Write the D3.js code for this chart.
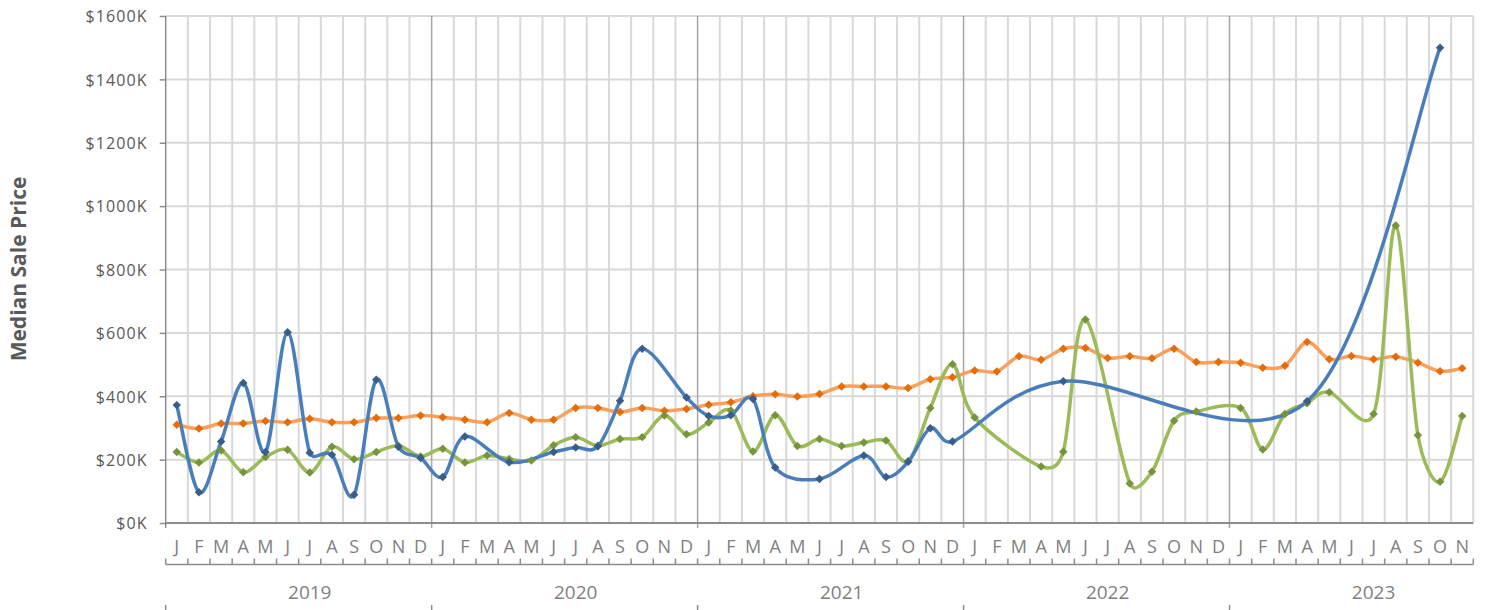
<!DOCTYPE html>
<html>
<head>
<meta charset="utf-8">
<script src="https://cdn.jsdelivr.net/npm/d3@7/dist/d3.min.js"></script>
<style>
  html, body { margin: 0; padding: 0; background: #ffffff; }
  svg { display: block; }
  text { font-family: "Open Sans", "Noto Sans", sans-serif; }
</style>
</head>
<body>
<svg id="chart" width="1488" height="610"></svg>
<script>
// ---- data (values in $K) ----
const years = ["2019", "2020", "2021", "2022", "2023"];
const monthLetters = ["J","F","M","A","M","J","J","A","S","O","N","D"];
const monthCount = 59; // Jan 2019 .. Nov 2023

const orangeValues = [
  310, 298, 314, 314, 322, 318, 329, 318, 318, 331, 331, 339,
  334, 326, 318, 347, 326, 326, 363, 363, 350, 363, 354, 360,
  373, 381, 400, 406, 399, 407, 431, 431, 431, 426, 454, 460,
  481, 478, 526, 515, 550, 552, 521, 526, 520, 550, 508, 508,
  506, 490, 496, 571, 517, 527, 517, 525, 506, 479, 488
];
const blueValues = [
  372, 97, 257, 442, 224, 602, 222, 215, 89, 452, 241, 205,
  145, 273, null, 192, null, 224, 238, 242, 386, 550, null, 396,
  338, 340, 391, 175, null, 139, null, 213, 145, 193, 299, 257,
  null, null, null, null, 447, null, null, null, null, null, null, null,
  null, null, null, 384, null, null, null, null, null, 1500, null
];
const greenValues = [
  224, 191, 229, 160, 208, 231, 159, 241, 201, 224, 244, 210,
  234, 191, 213, 202, 197, 245, 271, 244, 265, 271, 339, 280,
  317, 355, 226, 340, 243, 265, 243, 254, 260, 195, 363, 501,
  333, null, null, 178, 225, 642, null, 125, 162, 323, 352, null,
  363, 232, 344, 378, 413, null, 344, 939, 277, 130, 338
];
const yTicks = [0, 200, 400, 600, 800, 1000, 1200, 1400, 1600];
const yTitle = "Median Sale Price";

(function () {
const seriesList = [
  { name: "orange", values: orangeValues, line: "#f8a05c", marker: "#e46c0a" },
  { name: "green",  values: greenValues,  line: "#9bbb59", marker: "#77933c" },
  { name: "blue",   values: blueValues,   line: "#4a7ebb", marker: "#385d8a" }
];

// categories
const categories = [];
years.forEach((yr) => monthLetters.forEach((m, mi) => {
  if (categories.length < monthCount) categories.push({ idx: categories.length, year: yr, month: m, mi });
}));

// ---- layout ----
const svg = d3.select("#chart");
const pLeft = 165.7, pRight = 1473.3, pTop = 16, pBottom = 523;

const x = d3.scaleBand().domain(d3.range(monthCount)).range([pLeft, pRight]).paddingInner(0).paddingOuter(0);
const y = d3.scaleLinear().domain([0, 1600]).range([pBottom, pTop]);
const bw = x.bandwidth();
const cx = i => x(i) + bw / 2;
const bx = i => i === monthCount ? pRight : x(i);

const gridColor = "#d9d9d9";
const axisColor = "#8c8c8c";

// horizontal gridlines
svg.append("g").selectAll("line").data(yTicks.filter(d => d > 0)).join("line")
  .attr("x1", pLeft).attr("x2", pRight)
  .attr("y1", d => y(d)).attr("y2", d => y(d))
  .attr("stroke", gridColor).attr("stroke-width", 2);

// vertical gridlines at each month boundary
const boundaries = d3.range(1, monthCount + 1);
svg.append("g").selectAll("line").data(boundaries.filter(i => i % 12 !== 0 || i === monthCount)).join("line")
  .attr("x1", bx).attr("x2", bx)
  .attr("y1", pTop).attr("y2", pBottom)
  .attr("stroke", gridColor).attr("stroke-width", 2);

// year boundaries (darker)
const yearStarts = categories.filter(c => c.mi === 0).map(c => c.idx);
svg.append("g").selectAll("line").data(yearStarts.filter(i => i > 0)).join("line")
  .attr("x1", i => x(i)).attr("x2", i => x(i))
  .attr("y1", pTop).attr("y2", pBottom + 5)
  .attr("stroke", "#a6a6a6").attr("stroke-width", 1.5);

// y axis
const yAxis = svg.append("g").attr("transform", `translate(${pLeft},0)`)
  .call(d3.axisLeft(y).tickValues(yTicks).tickFormat(d => "$" + d + "K").tickSize(6).tickPadding(12).tickSizeOuter(0));
yAxis.select(".domain").attr("stroke", axisColor).attr("stroke-width", 1.5)
  .attr("d", `M0,${pTop}V${pBottom + 5}`);
yAxis.selectAll(".tick line").attr("stroke", axisColor).attr("stroke-width", 1.5);
yAxis.selectAll(".tick text").attr("fill", "#595959").style("font-size", "16px")
  .style("letter-spacing", "1.1px").attr("dy", "0.36em");

// x axis (month letters)
const xAxis = svg.append("g").attr("transform", `translate(0,${pBottom})`)
  .call(d3.axisBottom(x).tickFormat(i => categories[i].month).tickSize(0).tickPadding(17).tickSizeOuter(0));
xAxis.select(".domain").attr("stroke", axisColor).attr("stroke-width", 2)
  .attr("d", `M${pLeft},0H${pRight}`);
xAxis.selectAll(".tick text").attr("fill", "#7f7f7f").style("font-size", "18px");

// bracket under month labels
const bracketY = 564.5;
svg.append("line").attr("x1", pLeft).attr("x2", pRight).attr("y1", bracketY).attr("y2", bracketY)
  .attr("stroke", axisColor).attr("stroke-width", 1.5);
svg.append("g").selectAll("line").data(d3.range(0, monthCount + 1)).join("line")
  .attr("x1", bx).attr("x2", bx)
  .attr("y1", bracketY - 6).attr("y2", bracketY)
  .attr("stroke", axisColor).attr("stroke-width", 1.5);

// year labels
svg.append("g").selectAll("text").data(yearStarts).join("text")
  .attr("x", i => cx(i + 6)).attr("y", 598.5)
  .attr("text-anchor", "middle").attr("fill", "#7f7f7f").style("font-size", "19px")
  .text(i => categories[i].year);
// year separators at bottom
svg.append("g").selectAll("line").data(yearStarts).join("line")
  .attr("x1", i => x(i)).attr("x2", i => x(i)).attr("y1", 605).attr("y2", 612)
  .attr("stroke", axisColor).attr("stroke-width", 1.5);

// y title
svg.append("text")
  .attr("transform", "translate(26,269) rotate(-90)")
  .attr("text-anchor", "middle").attr("fill", "#595959")
  .style("font-size", "21px").style("font-weight", "bold")
  .text(yTitle);

// ---- series ----
// Excel-style smoothed line: Bezier with 1/6 tangents, capped at half the segment length
function smoothPath(points) {
  const p = d3.path();
  const n = points.length;
  if (!n) return "";
  p.moveTo(points[0][0], points[0][1]);
  const dist = (a, b) => Math.hypot(b[0] - a[0], b[1] - a[1]);
  for (let i = 0; i < n - 1; i++) {
    const p0 = points[Math.max(0, i - 1)], p1 = points[i], p2 = points[i + 1], p3 = points[Math.min(n - 1, i + 2)];
    const d12 = dist(p1, p2), d02 = dist(p0, p2), d13 = dist(p1, p3);
    let f1 = 1 / 6, f2 = 1 / 6;
    if (d02 / 6 > d12 / 2) f1 = d02 > 0 ? d12 / 2 / d02 : 0;
    if (d13 / 6 > d12 / 2) f2 = d13 > 0 ? d12 / 2 / d13 : 0;
    const c1 = [p1[0] + f1 * (p2[0] - p0[0]), p1[1] + f1 * (p2[1] - p0[1])];
    const c2 = [p2[0] - f2 * (p3[0] - p1[0]), p2[1] - f2 * (p3[1] - p1[1])];
    p.bezierCurveTo(c1[0], c1[1], c2[0], c2[1], p2[0], p2[1]);
  }
  return p.toString();
}
const pts = s => s.values.map((v, i) => ({ i, v })).filter(d => d.v !== null);

const plot = svg.append("g");
seriesList.forEach(s => {
  plot.append("path").attr("d", smoothPath(pts(s).map(d => [cx(d.i), y(d.v)])))
    .attr("fill", "none").attr("stroke", s.line).attr("stroke-width", 3.5)
    .attr("stroke-linejoin", "round").attr("stroke-linecap", "round");
});
const diamond = d3.symbol(d3.symbolSquare, 36);
seriesList.forEach(s => {
  plot.append("g").selectAll("path").data(pts(s)).join("path")
    .attr("d", diamond)
    .attr("transform", d => `translate(${cx(d.i)},${y(d.v)}) rotate(45)`)
    .attr("fill", s.marker);
});
})();
</script>
</body>
</html>
